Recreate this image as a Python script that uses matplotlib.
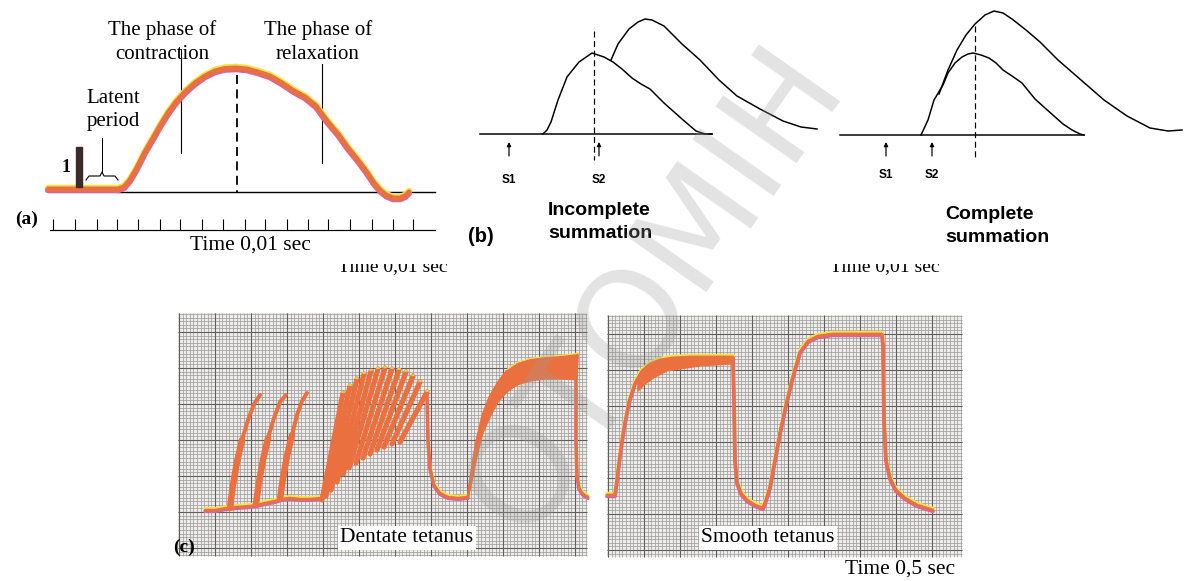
import numpy as np
import matplotlib.pyplot as plt
from matplotlib.patches import Rectangle
from matplotlib.transforms import offset_copy

W, H = 1186, 581

ORANGE = "#ea7040"
YELLOW = "#f2e447"
PINK = "#d8659a"
SERIF = "Liberation Serif"
SANS = "Liberation Sans"

# ---- panel (a): single twitch (pixel coords) ----
TWITCH_X = [48, 118, 124, 130, 137, 145, 152, 160, 168, 176, 185, 195, 205, 215, 225, 236,
            247, 258, 270, 282, 294, 305, 316, 327, 338, 348, 357, 366, 374, 380, 386, 393,
            400, 405, 409]
TWITCH_Y = [189, 189, 187, 180, 168, 152, 140, 126, 113, 102, 92, 83, 76, 71, 68.5, 68,
            69, 72, 76, 83, 91, 97, 106, 121, 134, 148, 159, 171, 183, 190, 195, 198,
            198, 196, 192]
TIME_TICKS_A = [53, 75, 97, 117, 138, 160, 180, 202, 223, 245, 265, 287, 308, 328, 350,
                372, 393, 413]

# ---- panel (b): summation ----
INC_C1_X = [543, 547, 551, 558, 567, 579, 592, 604, 613, 622, 632, 641, 650, 664, 682, 696, 705, 712]
INC_C1_Y = [134, 130, 122, 100, 77, 62, 53, 57, 62, 69, 78, 84, 89, 103, 119, 131, 134, 134]
INC_C2_X = [611, 618, 629, 638, 645, 652, 664, 682, 700, 719, 737, 760, 783, 801, 817]
INC_C2_Y = [60, 44, 29, 22, 19, 20, 26, 44, 60, 80, 96, 109, 121, 127, 129]
COM_C1_X = [921, 928, 934, 943, 948, 955, 962, 968, 973, 981, 989, 996, 1003, 1012, 1022,
            1035, 1045, 1054, 1063, 1072, 1080, 1084]
COM_C1_Y = [135, 120, 100, 85, 73, 63, 57, 54, 53, 55, 58, 63, 70, 76, 83,
            99, 108, 116, 124, 130, 134, 135]
COM_C2_X = [939, 948, 957, 966, 975, 985, 994, 1003, 1012, 1026, 1040, 1058, 1081, 1104,
            1127, 1150, 1168, 1182]
COM_C2_Y = [94, 70, 50, 35, 24, 15, 11, 13, 19, 30, 42, 60, 80, 100, 116, 128, 131, 130]

# ---- panel (c): tetanus recordings ----
DENT_BASE_X = [205, 215, 227, 237, 250, 257, 265, 275, 281, 290, 300, 310, 322]
DENT_BASE_Y = [510, 510, 508, 507, 506, 505, 503, 501, 499, 498, 499, 499, 498]
SINGLE_SPIKES = [
    ([230, 233, 237, 242, 248, 254, 260], [508, 485, 462, 440, 420, 404, 395]),
    ([256, 259, 263, 268, 274, 280, 286], [504, 482, 460, 438, 418, 402, 395]),
    ([280, 283, 287, 292, 297, 302, 307], [499, 478, 456, 435, 415, 401, 393]),
]
SAW_PEAK_X = [343, 350, 357, 364, 371, 378, 385, 392, 399, 406, 413, 420, 427]
SAW_PEAK_Y = [393, 386, 379, 374, 371, 369, 368, 369, 370, 372, 376, 382, 392]
SAW_BASE_X = [322, 326, 331, 337, 343, 349, 356, 363, 370, 377, 384, 392, 400]
SAW_BASE_Y = [500, 496, 490, 482, 474, 468, 463, 458, 454, 450, 447, 444, 442]
SAW_DECAY_X = [427, 428, 430, 434, 440, 448, 458, 468]
SAW_DECAY_Y = [392, 440, 468, 485, 493, 497, 498, 497]
FUSED_UP_X = [468, 472, 477, 483, 490, 498, 507, 517, 530, 545, 560, 577]
FUSED_UP_Y = [497, 470, 440, 415, 397, 383, 371, 364, 360, 358, 357, 355]
FUSED_LO_Y = [497, 482, 457, 433, 417, 402, 392, 385, 381, 379, 379, 380]
FUSED_DROP_X = [577, 576, 576, 577, 579, 583, 588]
FUSED_DROP_Y = [355, 380, 440, 475, 488, 494, 497]

SMOOTH_X = [607, 615, 617, 620, 624, 629, 635, 642, 650, 660, 672, 690, 710, 733, 734, 735,
            737, 741, 747, 755, 763, 766, 770, 775, 780, 786, 792, 800, 808, 818, 833, 860,
            882, 883, 884, 886, 890, 896, 905, 917, 933]
SMOOTH_Y = [495, 495, 480, 455, 428, 402, 383, 371, 364, 360, 358, 357, 357, 357, 400, 460,
            482, 493, 500, 505, 508, 500, 487, 460, 433, 405, 380, 352, 341, 336, 334, 334,
            334, 345, 420, 460, 478, 490, 498, 505, 510]
BAND_X = [637, 645, 655, 667, 700, 733]
BAND_UP = [377, 366, 361, 358, 357, 357]
BAND_LO = [392, 384, 377, 371, 366, 364]

PAPERS = [(178, 587, 313, 556), (607, 962, 315, 557)]


def px(v):
    return v * 0.72


def shifted(ax, fig, dy):
    return offset_copy(ax.transData, fig=fig, x=0, y=dy, units="dots")


def pen_trace(ax, fig, x, y, width=4.0, z=5):
    ax.plot(x, y, color=YELLOW, lw=px(width), transform=shifted(ax, fig, 1.3),
            solid_capstyle="round", zorder=z)
    ax.plot(x, y, color=PINK, lw=px(width), transform=shifted(ax, fig, -1.3),
            solid_capstyle="round", zorder=z)
    ax.plot(x, y, color=ORANGE, lw=px(width - 1), solid_capstyle="round", zorder=z + 0.1)


def panel_a(ax, fig):
    pen_trace(ax, fig, TWITCH_X, TWITCH_Y, width=6)
    ax.plot([118, 435], [192, 192], color="black", lw=px(1.4), zorder=3)
    ax.plot([237, 237], [75, 192], color="black", lw=px(1.8), ls=(0, (5, 3)), zorder=3)
    ax.plot([181, 181], [50, 153], color="black", lw=px(1.1))
    ax.plot([322, 322], [64, 163], color="black", lw=px(1.1))
    ax.add_patch(Rectangle((76, 147), 6, 40, color="#3a2a2a", zorder=7))
    ax.text(66, 168, "1", family=SERIF, weight="bold", fontsize=13, ha="center", va="center")
    # brace under "Latent period"
    ax.plot([86, 89, 100, 102, 104, 115, 118], [180, 176, 176, 172, 176, 176, 180],
            color="black", lw=px(1.1))
    ax.plot([102, 102], [138, 172], color="black", lw=px(1.0))
    ax.text(113, 110, "Latent\nperiod", family=SERIF, fontsize=15, ha="center",
            va="center", linespacing=1.35)
    ax.text(162, 42, "The phase of\ncontraction", family=SERIF, fontsize=15, ha="center",
            va="center", linespacing=1.35)
    ax.text(318, 42, "The phase of\nrelaxation", family=SERIF, fontsize=15, ha="center",
            va="center", linespacing=1.35)
    ax.text(27, 219, "(a)", family=SERIF, weight="bold", fontsize=14, ha="center", va="center")
    ax.plot([50, 435], [230, 230], color="black", lw=px(1.2))
    ax.vlines(TIME_TICKS_A, 219, 230, color="black", lw=px(1.1))
    ax.text(250, 245, "Time 0,01 sec", family=SERIF, fontsize=15.5, ha="center", va="center")
    # cut-off captions left over from the source figure (only their lower half shows)
    for cx in (393, 885):
        ax.text(cx, 267, "Time 0,01 sec", family=SERIF, fontsize=14, ha="center",
                va="center", zorder=2)
        ax.add_patch(Rectangle((cx - 75, 250), 150, 14, facecolor="white",
                               edgecolor="none", zorder=2.5))


def panel_b(ax):
    lw = px(1.5)
    ax.plot([480, 712], [134, 134], color="black", lw=lw)
    ax.plot(INC_C1_X, INC_C1_Y, color="black", lw=lw)
    ax.plot(INC_C2_X, INC_C2_Y, color="black", lw=lw)
    ax.plot([594, 594], [31, 160], color="black", lw=px(1.2), ls=(0, (5, 3)))
    ax.plot([840, 1084], [135, 135], color="black", lw=lw)
    ax.plot(COM_C1_X, COM_C1_Y, color="black", lw=lw)
    ax.plot(COM_C2_X, COM_C2_Y, color="black", lw=lw)
    ax.plot([975, 975], [26, 160], color="black", lw=px(1.2), ls=(0, (5, 3)))
    for x, lab, ly in [(509, "S1", 180), (599, "S2", 180), (886, "S1", 175), (932, "S2", 175)]:
        ax.annotate("", xy=(x, 142), xytext=(x, 156),
                    arrowprops=dict(arrowstyle="-|>", color="black", lw=px(1.2),
                                    mutation_scale=6, shrinkA=0, shrinkB=0))
        ax.text(x, ly, lab, family=SANS, weight="bold", fontsize=8.5, ha="center",
                va="center")
    ax.text(548, 222, "Incomplete\nsummation", family=SANS, weight="bold", fontsize=14,
            ha="left", va="center", linespacing=1.5)
    ax.text(945, 226, "Complete\nsummation", family=SANS, weight="bold", fontsize=14,
            ha="left", va="center", linespacing=1.5)
    ax.text(481, 237, "(b)", family=SANS, weight="bold", fontsize=14.5, ha="center",
            va="center")


def draw_paper(ax, x0, x1, y0, y1):
    ax.add_patch(Rectangle((x0, y0), x1 - x0, y1 - y0, facecolor="#eeece8",
                           edgecolor="none", zorder=1))
    minor_x = np.arange(x0 + 1, x1, 3.6)
    minor_y = np.arange(y0 + 1, y1, 3.6)
    ax.vlines(minor_x, y0, y1, color="#999999", lw=0.5, zorder=1.5)
    ax.hlines(minor_y, x0, x1, color="#999999", lw=0.5, zorder=1.5)
    ax.vlines(minor_x[::10], y0, y1, color="#5e5e5e", lw=0.8, zorder=1.6)
    ax.hlines(minor_y[5::10], x0, x1, color="#5e5e5e", lw=0.8, zorder=1.6)


def panel_c(ax, fig):
    for box in PAPERS:
        draw_paper(ax, *box)

    pen_trace(ax, fig, DENT_BASE_X, DENT_BASE_Y, width=3.5)
    for sx, sy in SINGLE_SPIKES:
        ax.plot(sx, sy, color=ORANGE, lw=px(4), solid_capstyle="round", zorder=6)
        ax.plot(sx[:4], sy[:4], color=ORANGE, lw=px(6.5), solid_capstyle="round", zorder=6)
    # incomplete (dentate) tetanus: one stroke per twitch
    for bx, by, tx, ty in zip(SAW_BASE_X, SAW_BASE_Y, SAW_PEAK_X, SAW_PEAK_Y):
        ax.plot([bx, tx], [by, ty], color=ORANGE, lw=px(5.2), solid_capstyle="round",
                zorder=6)
        ax.plot([tx - 1, tx + 1], [ty - 1, ty - 1], color=YELLOW, lw=px(1.5), zorder=6.1)
    pen_trace(ax, fig, SAW_DECAY_X, SAW_DECAY_Y, width=3.5)
    # fused part of dentate tetanus
    ax.fill_between(FUSED_UP_X, FUSED_UP_Y, FUSED_LO_Y, color=ORANGE, lw=0, zorder=6)
    ax.plot(FUSED_UP_X, FUSED_UP_Y, color=ORANGE, lw=px(3), zorder=6)
    ax.plot(FUSED_UP_X[6:], FUSED_UP_Y[6:], color=YELLOW, lw=px(1.2),
            transform=shifted(ax, fig, 1.5), zorder=6)
    pen_trace(ax, fig, FUSED_DROP_X, FUSED_DROP_Y, width=3.5)

    # smooth tetanus
    ax.fill_between(BAND_X, BAND_UP, BAND_LO, color=ORANGE, lw=0, zorder=6)
    pen_trace(ax, fig, SMOOTH_X, SMOOTH_Y, width=3.8)

    box = dict(facecolor="white", edgecolor="none", pad=1.5)
    ax.text(407, 538, "Dentate tetanus", family=SERIF, fontsize=15.5, ha="center",
            va="center", bbox=box, zorder=8)
    ax.text(768, 538, "Smooth tetanus", family=SERIF, fontsize=15.5, ha="center",
            va="center", bbox=box, zorder=8)
    ax.text(955, 569, "Time 0,5 sec", family=SERIF, fontsize=15.5, ha="right",
            va="center", zorder=8)
    ax.text(184, 547, "(c)", family=SERIF, weight="bold", fontsize=14, ha="center",
            va="center", zorder=8)


def main():
    fig = plt.figure(figsize=(W / 100, H / 100), dpi=100)
    ax = fig.add_axes([0, 0, 1, 1])
    ax.set_xlim(0, W)
    ax.set_ylim(H, 0)
    ax.axis("off")

    panel_a(ax, fig)
    panel_b(ax)
    panel_c(ax, fig)

    # faint diagonal watermark across the page
    ax.text(655, 290, "ОТОМІН", family="DejaVu Sans", fontsize=98, color="#9a9a9a",
            alpha=0.28, rotation=55, ha="center", va="center", zorder=10)

    fig.savefig("out.png", dpi=100)


if __name__ == "__main__":
    main()
